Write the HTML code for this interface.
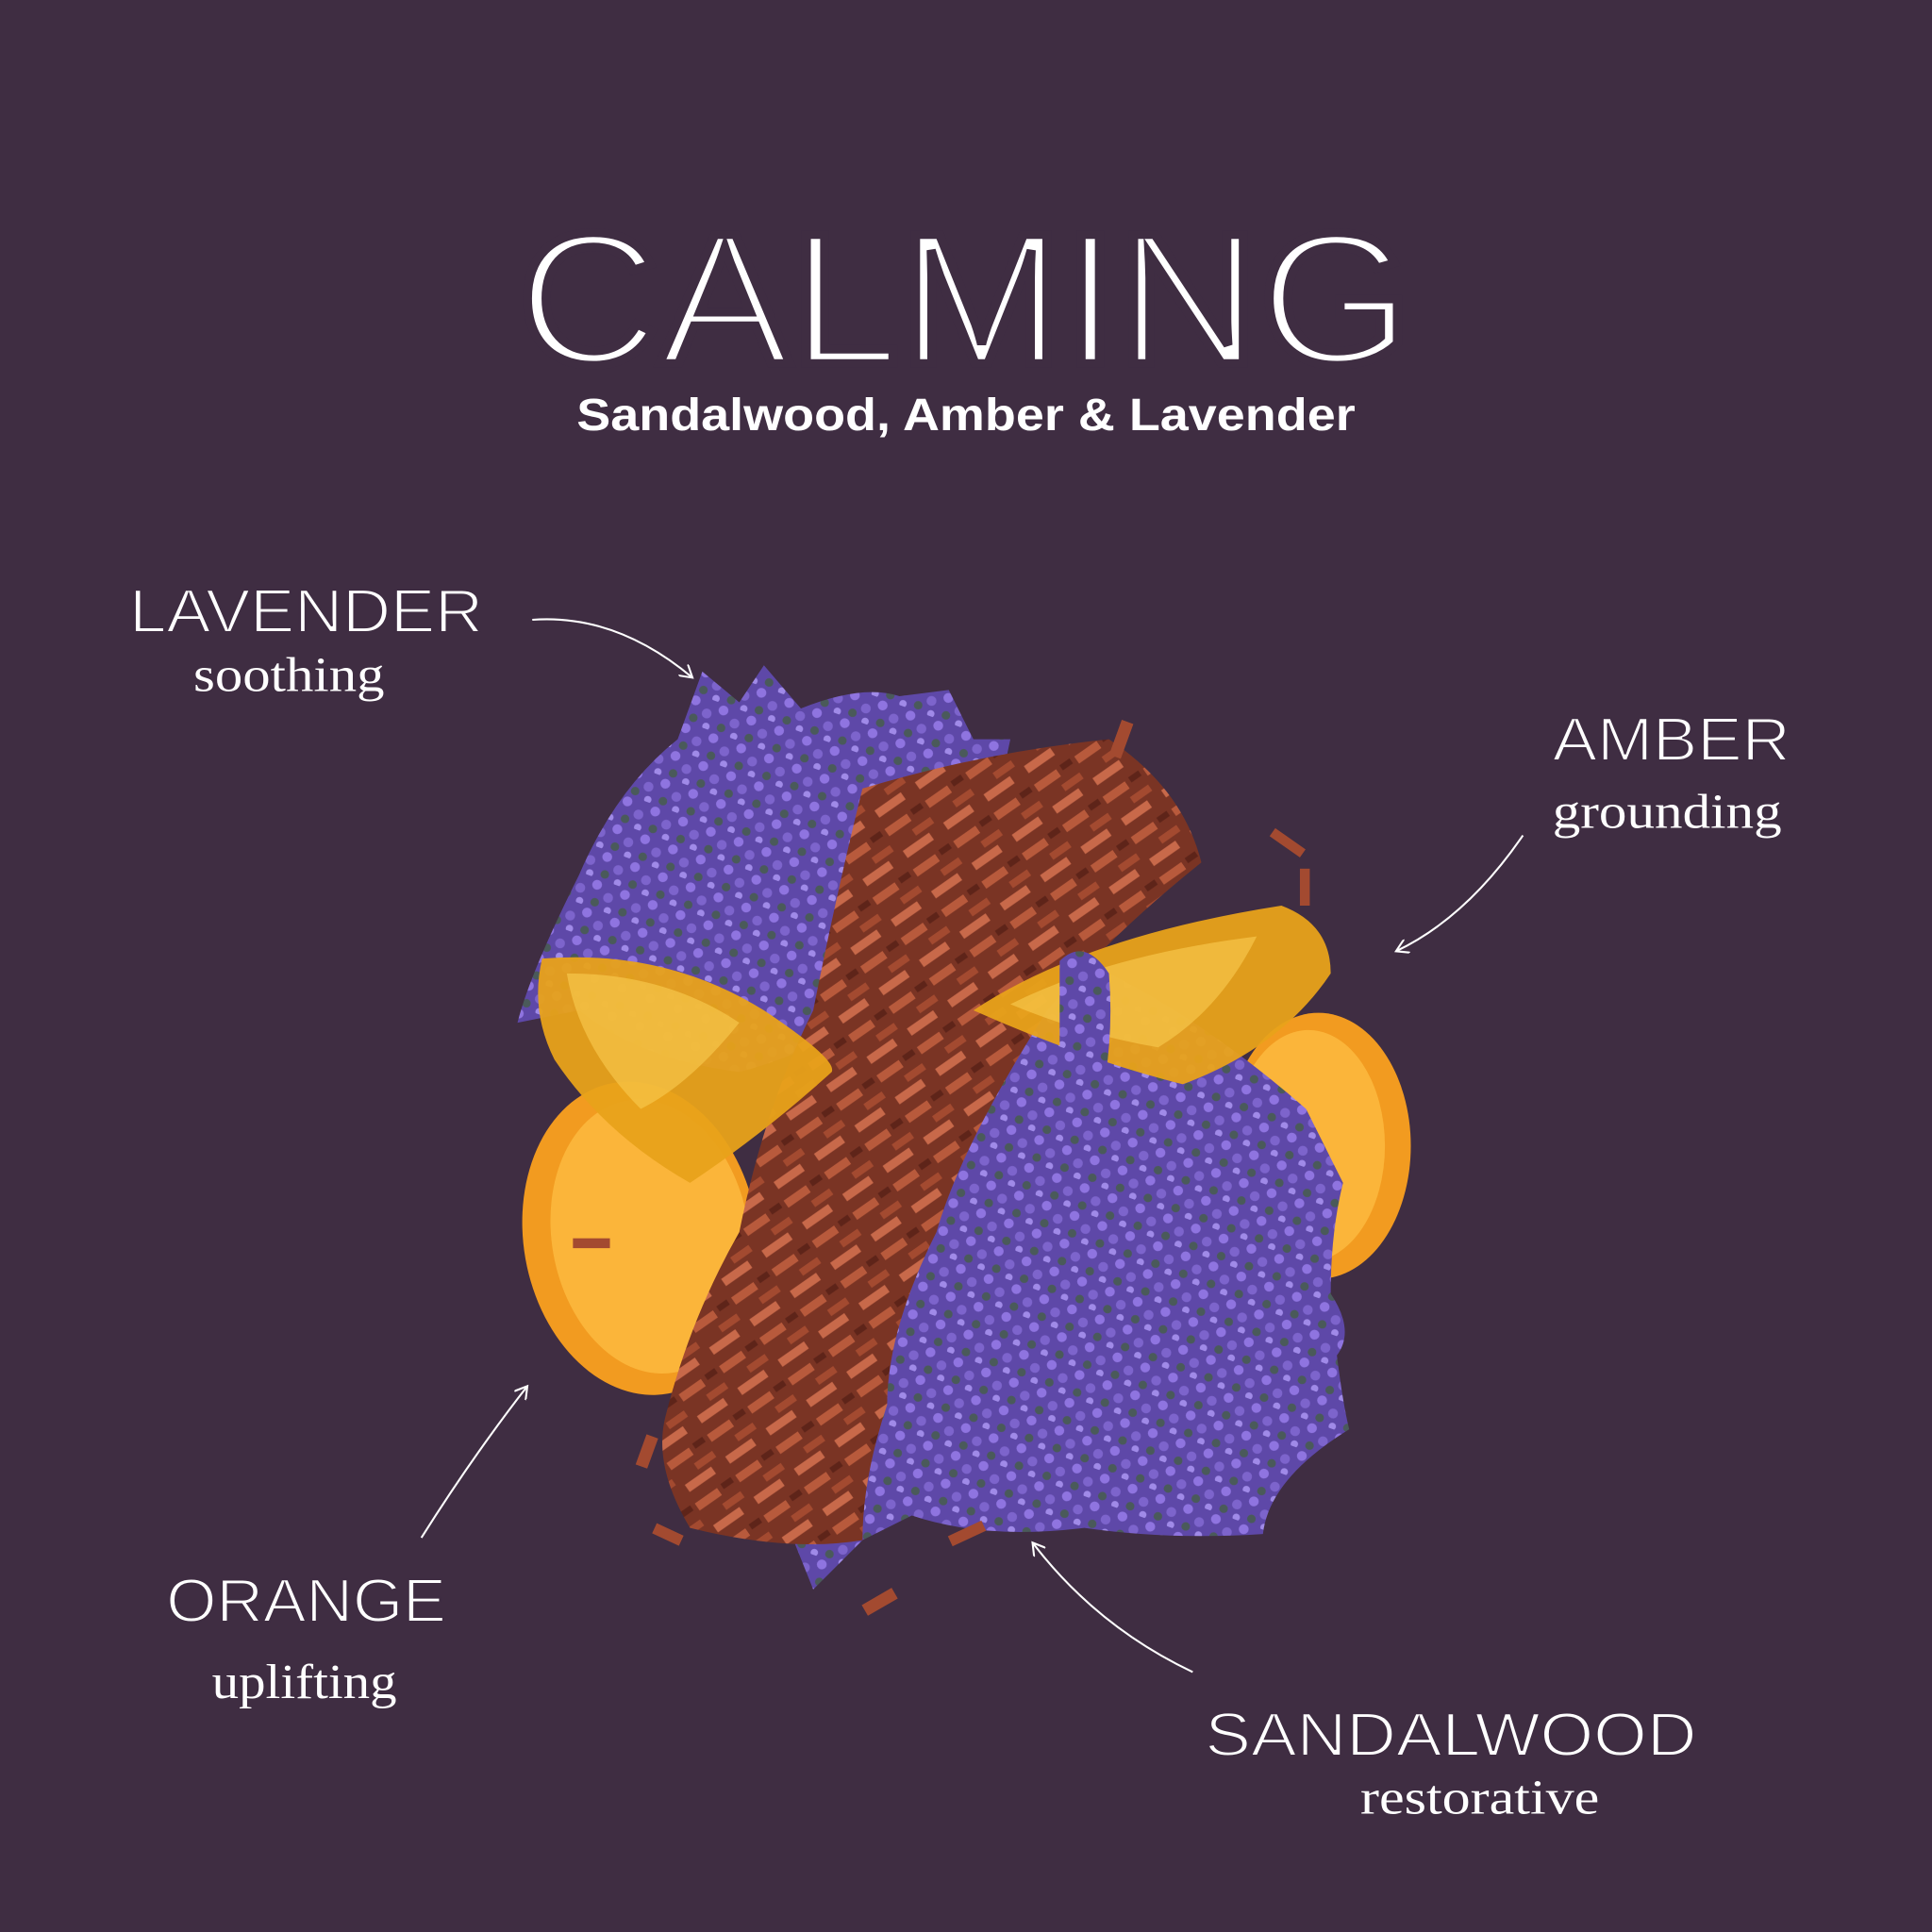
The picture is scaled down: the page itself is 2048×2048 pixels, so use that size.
<!DOCTYPE html>
<html><head><meta charset="utf-8"><style>
html,body{margin:0;padding:0;background:#3f2d42;}
svg{display:block}
</style></head><body>
<svg width="2048" height="2048" viewBox="0 0 1568 1568" xmlns="http://www.w3.org/2000/svg">
<defs>
<pattern id="chips" width="40" height="40" patternUnits="userSpaceOnUse" patternTransform="rotate(-35)">
<rect width="40" height="40" fill="#7a3424"/>
<rect x="2" y="3" width="22" height="7" fill="#b85a3c"/>
<rect x="20" y="16" width="18" height="6" fill="#a34a30"/>
<rect x="4" y="26" width="26" height="7" fill="#c8694a"/>
<rect x="28" y="2" width="10" height="5" fill="#5e2419"/>
</pattern>
<pattern id="lav" width="24" height="24" patternUnits="userSpaceOnUse" patternTransform="rotate(20)">
<rect width="24" height="24" fill="#5e48a8"/>
<circle cx="5" cy="5" r="4" fill="#8f74e0"/>
<circle cx="17" cy="12" r="4" fill="#7d64cc"/>
<circle cx="8" cy="19" r="3.5" fill="#4a5a5a"/>
<circle cx="20" cy="22" r="3" fill="#a08ae8"/>
</pattern>
<marker id="ah" markerWidth="12" markerHeight="12" refX="10" refY="6" orient="auto" markerUnits="userSpaceOnUse">
<path d="M0,0 L10,6 L0,12" fill="none" stroke="#fff" stroke-width="1.6"/>
</marker>
</defs>
<rect width="1568" height="1568" fill="#3f2d42"/>

<text x="420" y="295" font-family="Liberation Sans, sans-serif" font-size="152" fill="#fff" stroke="#3f2d42" stroke-width="7" textLength="726" lengthAdjust="spacingAndGlyphs">CALMING</text>
<text x="468" y="349" font-family="Liberation Sans, sans-serif" font-size="37" font-weight="bold" fill="#fff" textLength="632" lengthAdjust="spacingAndGlyphs">Sandalwood, Amber &amp; Lavender</text>

<g font-family="Liberation Sans, sans-serif" font-size="50" fill="#fff" stroke="#3f2d42" stroke-width="1.5">
<text x="105" y="513" textLength="287" lengthAdjust="spacingAndGlyphs">LAVENDER</text>
<text x="1260" y="617" textLength="193" lengthAdjust="spacingAndGlyphs">AMBER</text>
<text x="135" y="1316" textLength="227" lengthAdjust="spacingAndGlyphs">ORANGE</text>
<text x="978" y="1425" textLength="399" lengthAdjust="spacingAndGlyphs">SANDALWOOD</text>
</g>
<g font-family="Liberation Serif, serif" font-size="40" fill="#fff">
<text x="157" y="561" textLength="155" lengthAdjust="spacingAndGlyphs">soothing</text>
<text x="1260" y="672" textLength="186" lengthAdjust="spacingAndGlyphs">grounding</text>
<text x="172" y="1378" textLength="150" lengthAdjust="spacingAndGlyphs">uplifting</text>
<text x="1104" y="1472" textLength="194" lengthAdjust="spacingAndGlyphs">restorative</text>
</g>

<g fill="none" stroke="#fff" stroke-width="1.6" marker-end="url(#ah)">
<path d="M432,503 Q500,498 562,550"/>
<path d="M1236,678 Q1190,745 1133,772"/>
<path d="M342,1248 Q385,1180 428,1125"/>
<path d="M968,1357 Q890,1320 838,1252"/>
</g>

<g>
<ellipse cx="520" cy="1005" rx="95" ry="128" fill="#f29b20" transform="rotate(-10 520 1005)"/>
<ellipse cx="528" cy="1005" rx="80" ry="112" fill="#fbb53a" transform="rotate(-10 520 1005)"/>
<ellipse cx="1070" cy="930" rx="75" ry="108" fill="#f29b20"/>
<ellipse cx="1062" cy="930" rx="62" ry="94" fill="#fbb53a"/>
</g>
<path d="M470,710 Q500,640 550,600 L570,545 L600,570 L620,540 L650,575 Q700,555 730,565 L770,560 L790,600 L820,600 Q800,700 760,780 Q680,850 600,870 Q520,860 470,820 L420,830 Q430,790 470,710Z" fill="url(#lav)"/>
<path d="M760,900 Q820,800 900,790 Q980,830 1060,900 L1090,960 Q1080,1000 1080,1050 Q1100,1080 1085,1100 Q1090,1140 1095,1160 Q1030,1200 1025,1245 Q950,1250 880,1240 Q800,1250 740,1230 L700,1250 L660,1290 L640,1240 Q660,1180 650,1170 Q700,1100 740,1020 Q740,950 760,900Z" fill="url(#lav)"/>
<path d="M700,640 Q800,610 900,600 Q960,640 975,700 Q900,760 850,820 Q780,930 760,1000 Q720,1080 720,1140 Q700,1200 700,1250 Q640,1260 560,1240 Q530,1190 540,1150 Q560,1070 600,1000 Q620,900 660,820 Q680,720 700,640Z" fill="url(#chips)"/>
<path d="M440,778 Q540,770 620,820 Q680,860 675,870 Q620,920 560,960 Q490,920 450,860 Q430,820 440,778Z" fill="#e8a21a" opacity="0.95"/>
<path d="M460,790 Q540,790 600,830 Q560,880 520,900 Q470,850 460,790Z" fill="#f6c64a" opacity="0.7"/>
<path d="M790,820 Q880,760 1040,735 Q1080,750 1080,790 Q1040,850 960,880 Q880,860 790,820Z" fill="#e8a21a" opacity="0.95"/>
<path d="M820,815 Q900,775 1020,760 Q990,820 940,850 Q880,840 820,815Z" fill="#f6c64a" opacity="0.7"/>
<path d="M860,780 Q880,760 900,790 Q905,850 890,910 Q870,920 860,880Z" fill="url(#lav)"/>
<g fill="#a34a30">
<rect x="700" y="1295" width="28" height="10" transform="rotate(-30 714 1300)"/>
<rect x="530" y="1240" width="24" height="9" transform="rotate(25 540 1245)"/>
<rect x="1030" y="680" width="30" height="8" transform="rotate(35 1045 684)"/>
<rect x="770" y="1240" width="30" height="9" transform="rotate(-25 785 1245)"/>
<rect x="905" y="585" width="10" height="30" transform="rotate(20 910 600)"/>
<rect x="520" y="1165" width="10" height="26" transform="rotate(20 525 1178)"/>
<rect x="465" y="1005" width="30" height="8"/>
<rect x="1055" y="705" width="8" height="30"/>
</g>
</svg>
</body></html>
